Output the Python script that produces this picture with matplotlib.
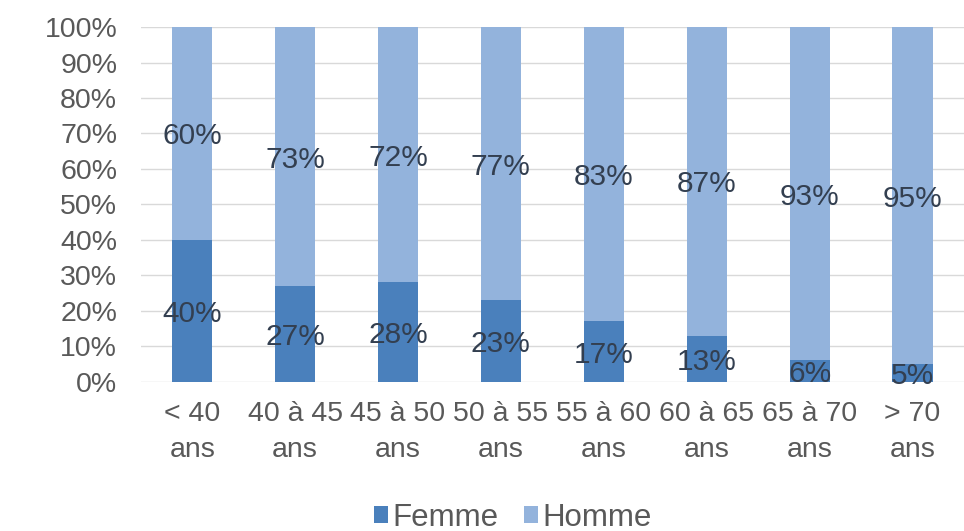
import matplotlib.pyplot as plt
import numpy as np

categories = ['< 40\nans', '40 à 45\nans', '45 à 50\nans', '50 à 55\nans',
              '55 à 60\nans', '60 à 65\nans', '65 à 70\nans', '> 70\nans']
femme = [40, 27, 28, 23, 17, 13, 6, 5]
homme = [60, 73, 72, 77, 83, 87, 93, 95]

plt.rcParams['font.family'] = ['Liberation Sans', 'DejaVu Sans']

# 100% stacked: scale each column to its total
f_arr = np.array(femme, dtype=float)
h_arr = np.array(homme, dtype=float)
tot = f_arr + h_arr
f_pct = f_arr / tot * 100
h_pct = h_arr / tot * 100

fig = plt.figure(figsize=(9.64, 5.31), dpi=100)
ax = fig.add_axes([0.146, 0.281, 0.854, 0.668])

x = np.arange(len(categories))
width = 0.39
c_f = '#4a80bc'
c_h = '#93b3dc'

b1 = ax.bar(x, f_pct, width, color=c_f, label='Femme', zorder=2)
b2 = ax.bar(x, h_pct, width, bottom=f_pct, color=c_h, label='Homme', zorder=2)

# data labels, centred in each segment
for xi, f, h, fp, hp in zip(x, femme, homme, f_pct, h_pct):
    ax.text(xi, fp / 2, f'{f}%', ha='center', va='center_baseline', fontsize=21.5, color='#333f50')
    ax.text(xi, fp + hp / 2, f'{h}%', ha='center', va='center_baseline', fontsize=21.5, color='#333f50')

ax.set_xlim(-0.5, len(categories) - 0.5)
ax.set_ylim(0, 100)
ax.set_yticks(range(0, 101, 10))
ax.set_yticklabels([f'{v}%' for v in range(0, 101, 10)])
ax.set_xticks(x)
ax.set_xticklabels(categories, linespacing=1.5)

ax.grid(axis='y', color='#d9d9d9', linewidth=1, zorder=0)
for s in ax.spines.values():
    s.set_visible(False)
ax.tick_params(axis='both', length=0, labelsize=20.5, labelcolor='#595959')
ax.tick_params(axis='y', pad=17)
ax.tick_params(axis='x', pad=14)

fig.legend(handles=[b1, b2], labels=['Femme', 'Homme'], loc='center',
           bbox_to_anchor=(0.532, 0.025), ncol=2, frameon=False, fontsize=22.5,
           handlelength=0.45, handleheight=0.45, handletextpad=0.15, columnspacing=0.8,
           labelcolor='#595959')

fig.savefig('out.png', dpi=100)
